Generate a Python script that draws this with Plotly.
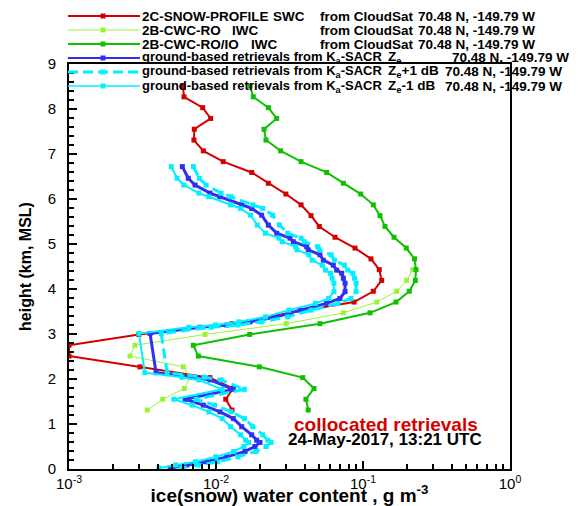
import plotly.graph_objects as go

# ---------------- data ----------------
# CloudSat bins (km MSL)
h_cloudsat = [8.51, 8.27, 8.03, 7.79, 7.55, 7.31, 7.07, 6.83, 6.59, 6.35, 6.11,
              5.87, 5.63, 5.39, 5.15, 4.91, 4.67, 4.43, 4.19, 3.95, 3.71, 3.47,
              3.23, 2.99, 2.75, 2.51, 2.27, 2.03, 1.79, 1.55, 1.31]

swc_snow_profile = [5.96e-3, 6.06e-3, 8.12e-3, 9.2e-3, 7.12e-3, 7.08e-3, 8.2e-3,
                    0.0112, 0.0175, 0.0227, 0.0299, 0.0379, 0.0443, 0.0504, 0.0645,
                    0.0882, 0.1133, 0.129, 0.134, 0.1175, 0.0869, 0.0319, 0.01285,
                    2.99e-3, 1.0e-3, 1.0e-3, 3.04e-3, 9.1e-3, 0.01305, 0.01165, 0.01285]

iwc_ro_io = [0.01703, 0.01793, 0.0227, 0.02588, 0.02121, 0.02188, 0.02754, 0.0379,
             0.0566, 0.0735, 0.0965, 0.1175, 0.1305, 0.1411, 0.1625, 0.197, 0.224,
             0.2294, 0.2269, 0.2065, 0.1677, 0.1116, 0.0510, 0.01695, 7.01e-3,
             7.58e-3, 0.0197, 0.0389, 0.0464, 0.0409, 0.0424]

h_ro = [4.43, 4.19, 3.95, 3.71, 3.47, 3.23, 2.99, 2.75, 2.51, 2.27, 2.03, 1.79, 1.55, 1.31]
iwc_ro = [0.218, 0.1983, 0.1695, 0.124, 0.0735, 0.0301, 8.42e-3, 2.81e-3, 2.60e-3,
          5.99e-3, 6.66e-3, 6.09e-3, 4.34e-3, 3.41e-3]

# Ka-SACR retrievals (km MSL)
h_sacr = [6.72, 6.46, 6.31, 6.13, 6.05, 5.87, 5.79, 5.64, 5.42, 5.24, 5.13, 5.05,
          4.94, 4.87, 4.76, 4.64, 4.53, 4.42, 4.35, 4.24, 4.13, 3.94, 3.79, 3.68,
          3.53, 3.38, 3.27, 3.20, 3.15, 3.01, 2.14, 2.04, 1.98, 1.77, 1.55, 1.42,
          1.27, 1.12, 0.94, 0.76, 0.64, 0.59, 0.50, 0.39, 0.27, 0.16, 0.09, 0.02]

iwc_sacr = [5.90e-3, 6.48e-3, 7.20e-3, 9.10e-3, 1.064e-2, 1.496e-2, 1.75e-2, 2.046e-2,
            2.27e-2, 2.588e-2, 3.187e-2, 3.357e-2, 4.14e-2, 4.24e-2, 5.10e-2, 5.37e-2,
            6.28e-2, 6.62e-2, 7.16e-2, 7.35e-2, 7.55e-2, 7.55e-2, 6.97e-2, 5.66e-2,
            3.73e-2, 2.588e-2, 1.703e-2, 1.183e-2, 7.78e-3, 3.56e-3, 3.91e-3, 6.98e-3,
            9.1e-3, 1.312e-2, 6.16e-3, 8.2e-3, 1.064e-2, 1.312e-2, 1.496e-2, 1.75e-2,
            1.891e-2, 1.992e-2, 1.841e-2, 1.575e-2, 1.183e-2, 8.64e-3, 6.32e-3, 4.87e-3]

iwc_sacr_p1 = [7.02e-3, 7.71e-3, 8.57e-3, 1.083e-2, 1.266e-2, 1.780e-2, 2.08e-2, 2.43e-2,
               2.70e-2, 3.08e-2, 3.79e-2, 3.99e-2, 4.93e-2, 5.05e-2, 6.07e-2, 6.39e-2,
               7.47e-2, 7.88e-2, 8.52e-2, 8.75e-2, 8.98e-2, 8.98e-2, 8.29e-2, 6.74e-2,
               4.44e-2, 3.08e-2, 2.03e-2, 1.41e-2, 9.26e-3, 4.24e-3, 4.65e-3, 8.31e-3,
               1.083e-2, 1.561e-2, 7.33e-3, 9.76e-3, 1.266e-2, 1.561e-2, 1.780e-2, 2.08e-2,
               2.25e-2, 2.37e-2, 2.19e-2, 1.87e-2, 1.41e-2, 1.03e-2, 7.52e-3, 5.80e-3]

iwc_sacr_m1 = [4.96e-3, 5.44e-3, 6.05e-3, 7.64e-3, 8.94e-3, 1.257e-2, 1.47e-2, 1.72e-2,
               1.91e-2, 2.17e-2, 2.68e-2, 2.82e-2, 3.48e-2, 3.56e-2, 4.28e-2, 4.51e-2,
               5.28e-2, 5.56e-2, 6.01e-2, 6.17e-2, 6.34e-2, 6.34e-2, 5.85e-2, 4.75e-2,
               3.13e-2, 2.17e-2, 1.43e-2, 9.94e-3, 6.54e-3, 2.99e-3, 3.28e-3, 5.86e-3,
               7.64e-3, 1.102e-2, 5.17e-3, 6.89e-3, 8.94e-3, 1.102e-2, 1.257e-2, 1.47e-2,
               1.59e-2, 1.67e-2, 1.55e-2, 1.32e-2, 9.94e-3, 7.26e-3, 5.31e-3, 4.09e-3]

x_tickvals = [1e-3, 1e-2, 1e-1, 1]
x_ticktext = ["10<sup>-3</sup>", "10<sup>-2</sup>", "10<sup>-1</sup>", "10<sup>0</sup>"]
x_minor = [m * d for d in (1e-3, 1e-2, 1e-1) for m in range(2, 10)]

RED = "#d40000"
LIME = "#99f533"
GREEN = "#10c000"
BLUE = "#3030f0"
CYAN = "#00f0ff"
FONT = "Liberation Sans, Arial, Helvetica, sans-serif"

series = [
    dict(x=swc_snow_profile, y=h_cloudsat, color=RED, width=2, dash="solid", msize=5),
    dict(x=iwc_ro, y=h_ro, color=LIME, width=1, dash="solid", msize=5),
    dict(x=iwc_ro_io, y=h_cloudsat, color=GREEN, width=2, dash="solid", msize=5),
    dict(x=iwc_sacr, y=h_sacr, color=BLUE, width=3, dash="solid", msize=5),
    dict(x=iwc_sacr_p1, y=h_sacr, color=CYAN, width=3, dash="10px,5px", msize=5),
    dict(x=iwc_sacr_m1, y=h_sacr, color=CYAN, width=2, dash="solid", msize=5),
]

fig = go.Figure()
for s in series:
    fig.add_trace(go.Scatter(
        x=s["x"], y=s["y"], mode="lines+markers",
        line=dict(color=s["color"], width=s["width"], dash=s["dash"]),
        marker=dict(symbol="square", size=s["msize"], color=s["color"]),
        showlegend=False,
    ))

# plot-area geometry in page pixels (used to place legend and labels)
L, R, T, B = 69, 510, 64, 469
W, H = 588, 506


def px(x):
    return (x - L) / (R - L)


def py(y):
    return (B - y) / (B - T)


shapes = []
annotations = []


def label(x, y, text, size=13, color="black", anchor="left"):
    # annotations carry ~2.5 px of padding; shift so the glyphs start at x
    shift = -2.5 if anchor == "left" else 0
    annotations.append(dict(x=px(x + shift), y=py(y), xref="paper", yref="paper",
                            text="<b>" + text + "</b>", showarrow=False,
                            xanchor=anchor, yanchor="middle",
                            font=dict(family=FONT, size=size, color=color)))


KA = "ground-based retrievals from K<sub>a</sub>-SACR"
COORD = "70.48 N, -149.79 W"
# (row y, colour, width, dash, [(x, text, size), ...])
legend_rows = [
    (16, RED, 2, "solid", [(142, "2C-SNOW-PROFILE", 13.5), (273, "SWC", 13.5),
                           (320, "from CloudSat", 13.5), (418, COORD, 13.5)]),
    (30, LIME, 1, "solid", [(142, "2B-CWC-RO", 13.5), (232, "IWC", 13.5),
                            (320, "from CloudSat", 13.5), (418, COORD, 13.5)]),
    (44, GREEN, 2, "solid", [(142, "2B-CWC-RO/IO", 13.5), (251, "IWC", 13.5),
                             (320, "from CloudSat", 13.5), (418, COORD, 13.5)]),
    (58, BLUE, 2, "solid", [(142, KA, 13), (388, "Z<sub>e</sub>", 13.5), (452, COORD, 13.5)]),
    (72, CYAN, 3, "10px,5px", [(142, KA, 13), (388, "Z<sub>e</sub>+1 dB", 13.5), (445, COORD, 13.5)]),
    (86, CYAN, 1.5, "solid", [(142, KA, 13), (388, "Z<sub>e</sub>-1 dB", 13.5), (445, COORD, 13.5)]),
]
for (yy, col, lw, dash, parts) in legend_rows:
    shapes.append(dict(type="line", xref="paper", yref="paper",
                       x0=px(68), x1=px(140), y0=py(yy), y1=py(yy),
                       line=dict(color=col, width=lw, dash=dash)))
    shapes.append(dict(type="rect", xref="paper", yref="paper",
                       x0=px(100.5), x1=px(105.5), y0=py(yy + 2.5), y1=py(yy - 2.5),
                       fillcolor=col, line=dict(width=0)))
    for (xx, txt, sz) in parts:
        label(xx, yy, txt, size=sz)

label(386, 424, "collocated retrievals", size=19, color=RED, anchor="center")
label(385, 439, "24-May-2017, 13:21 UTC", size=17, anchor="center")

fig.update_layout(
    width=W, height=H,
    margin=dict(l=L, r=W - R, t=T, b=H - B, autoexpand=False),
    plot_bgcolor="white", paper_bgcolor="white",
    showlegend=False,
    font=dict(family=FONT, color="black", size=15),
    shapes=shapes,
    annotations=annotations,
)

fig.update_xaxes(
    type="log", range=[-3, 0],
    tickmode="array", tickvals=x_tickvals, ticktext=x_ticktext,
    ticks="inside", ticklen=8, tickwidth=2, tickcolor="black",
    showline=True, linewidth=2, linecolor="black", mirror=True,
    showgrid=False, zeroline=False,
    tickfont=dict(family=FONT, size=15, color="black"),
    minor=dict(tickmode="array", tickvals=x_minor, ticks="inside", ticklen=5,
               tickwidth=1.5, tickcolor="black", showgrid=False),
    title=dict(text="<b>ice(snow) water content , g m<sup>-3</sup></b>",
               font=dict(family=FONT, size=19, color="black"), standoff=0),
    automargin=False,
)

fig.update_yaxes(
    range=[0, 9], dtick=1, tick0=0,
    ticks="inside", ticklen=8, tickwidth=2, tickcolor="black",
    showline=True, linewidth=2, linecolor="black", mirror=True,
    showgrid=False, zeroline=False,
    tickfont=dict(family=FONT, size=15, color="black"),
    ticklabelstandoff=8,
    minor=dict(dtick=0.2, ticks="inside", ticklen=5, tickwidth=1.5,
               tickcolor="black", showgrid=False),
    title=dict(text="<b>height (km, MSL)</b>",
               font=dict(family=FONT, size=16, color="black"), standoff=12),
    automargin=False,
)

fig.write_html("out.html")
